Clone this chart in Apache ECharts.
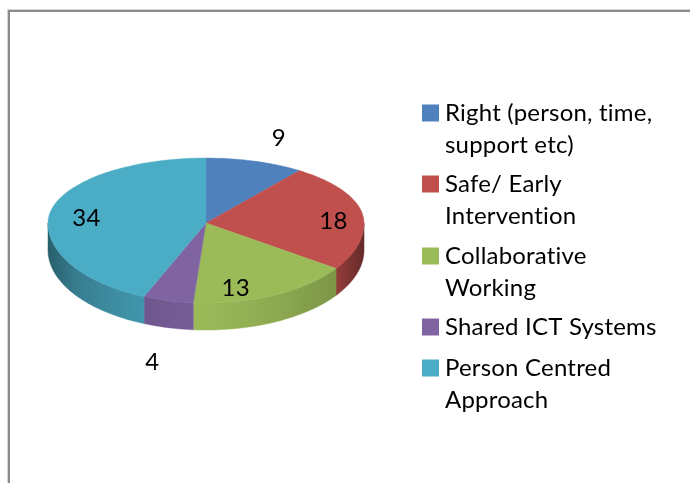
<!DOCTYPE html>
<html><head><meta charset="utf-8">
<style>html,body{margin:0;padding:0;background:#fff}#c{width:690px;height:483px}</style>
<script>
// the reference face has no ligatures and is set slightly looser
(function () {
  const orig = HTMLCanvasElement.prototype.getContext;
  HTMLCanvasElement.prototype.getContext = function (type, opts) {
    const ctx = orig.call(this, type, opts);
    if (ctx && type === '2d' && 'letterSpacing' in ctx) ctx.letterSpacing = '0.2px';
    return ctx;
  };
})();
</script>
<script src="https://cdn.jsdelivr.net/npm/echarts@6/dist/echarts.min.js"></script>
</head><body><div id="c"></div>
<script>
const categories = ['Right (person, time,\nsupport etc)', 'Safe/ Early\nIntervention', 'Collaborative\nWorking', 'Shared ICT Systems', 'Person Centred\nApproach'];
const values = [9, 18, 13, 4, 34];
const colors = ['#4F81BD', '#C0504D', '#9BBB59', '#8064A2', '#4BACC6'];
const legendTops = [97, 168, 240, 311, 352];
const labelOffsets = [[26, -23], [-29, 8], [-38, -7], [-16, 62], [34, 11]];

const FONT = 'Lato, "Open Sans", sans-serif';
const CX = 206, CY = 223, RX = 158, RY_BACK = 65, RY_FRONT = 80, DEPTH = 27, WARP = 5.3;
const LIGHT = [[-158, .55], [-130, .72], [-100, .8], [-62, .87], [-13, .93], [-12, 1], [60, .92], [130, .8], [131, .76], [158, .52]];
const total = values.reduce((a, b) => a + b, 0);

function rim(deg) {
  // clockwise angle from 12 o'clock, with the far half foreshortened as in a perspective view
  let d = ((deg + 180) % 360 + 360) % 360 - 180;
  const back = Math.abs(d) <= 90;
  const t = (back ? d - WARP * Math.sin(2 * d * Math.PI / 180) : d) * Math.PI / 180;
  return [CX + RX * Math.sin(t), CY - (back ? RY_BACK : RY_FRONT) * Math.cos(t)];
}
function arc(a, b) {
  const n = Math.max(2, Math.ceil(Math.abs(b - a) / 1.5));
  const p = [];
  for (let i = 0; i <= n; i++) p.push(rim(a + (b - a) * i / n));
  return p;
}
function shade(hex, k) {
  const n = parseInt(hex.slice(1), 16);
  const c = [n >> 16, (n >> 8) & 255, n & 255].map(v => Math.round(v * k));
  return `rgb(${c[0]},${c[1]},${c[2]})`;
}
function wallFill(hex) {
  const x0 = LIGHT[0][0], x1 = LIGHT[LIGHT.length - 1][0];
  return {
    type: 'linear', global: true, x: CX + x0, y: 0, x2: CX + x1, y2: 0,
    colorStops: LIGHT.map(s => ({ offset: (s[0] - x0) / (x1 - x0), color: shade(hex, s[1]) }))
  };
}
function makeRender(i) {
  return function (params, api) {
    const v = api.value(0);
    const before = values.slice(0, i).reduce((a, b) => a + b, 0);
    const a0 = before / total * 360, a1 = (before + v) / total * 360;
    const children = [];
    const w0 = Math.max(a0, 90), w1 = Math.min(a1, 270);
    if (w1 > w0) {
      const top = arc(w0, w1);
      const bottom = top.map(p => [p[0], p[1] + DEPTH]).reverse();
      const fill = wallFill(colors[i]);
      children.push({
        type: 'polygon', z2: 1,
        shape: { points: top.concat(bottom) },
        style: { fill: fill, stroke: fill, lineWidth: 0.5 }
      });
    }
    children.push({
      type: 'polygon', z2: 2,
      shape: { points: [[CX, CY]].concat(arc(a0, a1)) },
      style: { fill: colors[i], stroke: colors[i], lineWidth: 0.4 }
    });
    const mid = rim((a0 + a1) / 2);
    children.push({
      type: 'text', z2: 3,
      x: mid[0] + labelOffsets[i][0], y: mid[1] + labelOffsets[i][1],
      style: { text: String(v), fill: '#000', font: '24px ' + FONT, align: 'center', verticalAlign: 'middle' }
    });
    return { type: 'group', children: children };
  };
}

const series = categories.map((name, i) => ({
  type: 'custom', name: name, coordinateSystem: 'none',
  itemStyle: { color: colors[i] },
  data: [[values[i]]],
  renderItem: makeRender(i),
  silent: true, animation: false
}));

const legends = categories.map((name, i) => {
  const twoLines = name.indexOf('\n') >= 0;
  return {
    data: [name], orient: 'vertical', left: 422, top: legendTops[i], padding: 0,
    selectedMode: false, itemWidth: 17, itemHeight: twoLines ? 49 : 17, itemGap: 0,
    icon: twoLines ? 'path://M0 0H17V17H0Z M0 49h0.001' : 'rect',
    textStyle: { fontFamily: FONT, fontSize: 24, color: '#000', lineHeight: 32, padding: [0, 0, 0, 1] }
  };
});

const chart = echarts.init(document.getElementById('c'), null, { renderer: 'canvas' });
chart.setOption({
  animation: false,
  backgroundColor: '#fff',
  legend: legends,
  graphic: [
    { type: 'rect', silent: true, shape: { x: 7, y: 9, width: 683, height: 1 }, style: { fill: '#d4d4d4' } },
    { type: 'rect', silent: true, shape: { x: 7, y: 9, width: 1, height: 474 }, style: { fill: '#d4d4d4' } },
    { type: 'rect', silent: true, shape: { x: 8, y: 10, width: 682, height: 2 }, style: { fill: '#8c8c8c' } },
    { type: 'rect', silent: true, shape: { x: 8, y: 10, width: 2, height: 473 }, style: { fill: '#8c8c8c' } }
  ],
  series: series
});
</script></body></html>
